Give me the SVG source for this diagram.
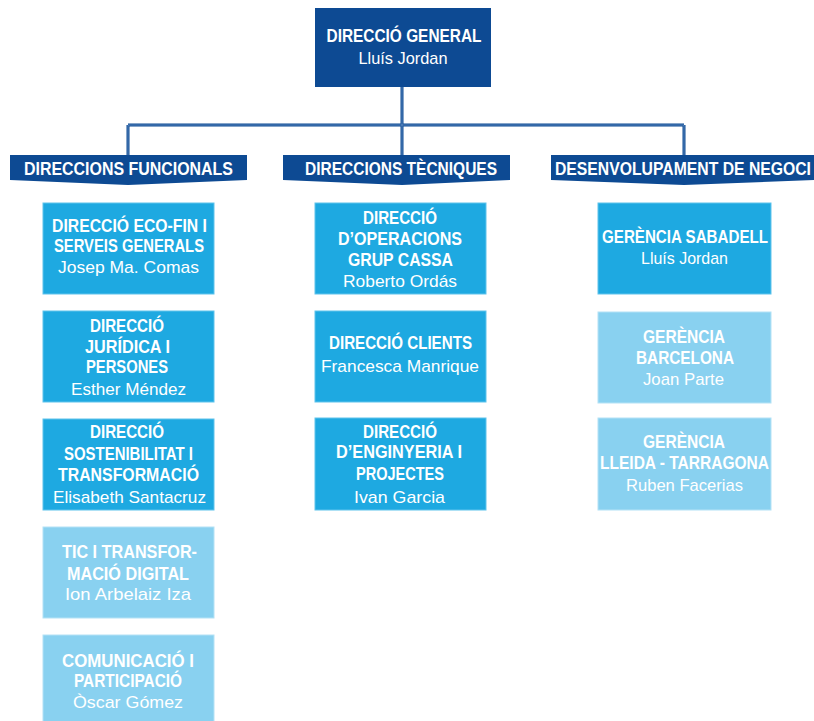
<svg xmlns="http://www.w3.org/2000/svg" width="814" height="721" viewBox="0 0 814 721">
<style>
.dark{fill:#0d4a93}
.bright{fill:#1ea9e1;stroke:#5fc3ec;stroke-width:1}
.light{fill:#89d1f0;stroke:#b4e2f6;stroke-width:1}
.t{font-family:"Liberation Sans",Arial,sans-serif;font-weight:bold;font-size:19px;fill:#ffffff;text-anchor:middle}
.n{font-family:"Liberation Sans",Arial,sans-serif;font-weight:normal;font-size:17px;fill:#ffffff;text-anchor:middle}
.h{font-family:"Liberation Sans",Arial,sans-serif;font-weight:bold;font-size:18px;fill:#ffffff;text-anchor:start}
.ln{fill:none;stroke:#0d4a93;stroke-width:3}
.lni{fill:none;stroke:#6f98c8;stroke-width:0.8}
</style>
<rect width="814" height="721" fill="#ffffff"/>
<g id="connectors">
<path class="ln" d="M402,87 V155 M128,125 H684 M128,125 V155 M684,125 V155"/>
<path class="lni" d="M402,87 V155 M128,125 H684 M128,125 V155 M684,125 V155"/>
</g>
<g id="dg">
<rect class="dark" x="315" y="8" width="176" height="79"/>
<text class="t" x="404" y="42" textLength="155" lengthAdjust="spacingAndGlyphs">DIRECCIÓ GENERAL</text>
<text class="n" x="403" y="64" textLength="89" lengthAdjust="spacingAndGlyphs">Lluís Jordan</text>
</g>
<g id="banner-funcionals">
<polygon class="dark" points="10,155 247,155 247,180 128,185 10,180"/>
<text class="h" x="24" y="175" textLength="209" lengthAdjust="spacingAndGlyphs">DIRECCIONS FUNCIONALS</text>
</g>
<g id="banner-tecniques">
<polygon class="dark" points="283,155 510,155 510,180 402,185 283,180"/>
<text class="h" x="305" y="175" textLength="192" lengthAdjust="spacingAndGlyphs">DIRECCIONS TÈCNIQUES</text>
</g>
<g id="banner-negoci">
<polygon class="dark" points="551,155 814,155 814,180 684,185 551,180"/>
<text class="h" x="555" y="175" textLength="256" lengthAdjust="spacingAndGlyphs">DESENVOLUPAMENT DE NEGOCI</text>
</g>
<g id="eco-fin">
<rect class="bright" x="43" y="203" width="171" height="91"/>
<text class="t" x="129.5" y="232" textLength="155" lengthAdjust="spacingAndGlyphs">DIRECCIÓ ECO-FIN I</text>
<text class="t" x="129" y="252" textLength="150" lengthAdjust="spacingAndGlyphs">SERVEIS GENERALS</text>
<text class="n" x="128.5" y="273" textLength="141" lengthAdjust="spacingAndGlyphs">Josep Ma. Comas</text>
</g>
<g id="juridica">
<rect class="bright" x="43" y="311" width="171" height="91"/>
<text class="t" x="127" y="332" textLength="74" lengthAdjust="spacingAndGlyphs">DIRECCIÓ</text>
<text class="t" x="127.5" y="353" textLength="85" lengthAdjust="spacingAndGlyphs">JURÍDICA I</text>
<text class="t" x="127" y="373" textLength="82" lengthAdjust="spacingAndGlyphs">PERSONES</text>
<text class="n" x="128.5" y="395" textLength="115" lengthAdjust="spacingAndGlyphs">Esther Méndez</text>
</g>
<g id="sostenibilitat">
<rect class="bright" x="43" y="419" width="171" height="91"/>
<text class="t" x="127" y="438" textLength="74" lengthAdjust="spacingAndGlyphs">DIRECCIÓ</text>
<text class="t" x="128.5" y="460" textLength="129" lengthAdjust="spacingAndGlyphs">SOSTENIBILITAT I</text>
<text class="t" x="128.5" y="481" textLength="141" lengthAdjust="spacingAndGlyphs">TRANSFORMACIÓ</text>
<text class="n" x="129.5" y="503" textLength="153" lengthAdjust="spacingAndGlyphs">Elisabeth Santacruz</text>
</g>
<g id="tic">
<rect class="light" x="43" y="527" width="171" height="91"/>
<text class="t" x="129.5" y="558" textLength="135" lengthAdjust="spacingAndGlyphs">TIC I TRANSFOR-</text>
<text class="t" x="128" y="580" textLength="122" lengthAdjust="spacingAndGlyphs">MACIÓ DIGITAL</text>
<text class="n" x="128" y="600" textLength="126" lengthAdjust="spacingAndGlyphs">Ion Arbelaiz Iza</text>
</g>
<g id="comunicacio">
<rect class="light" x="43" y="635" width="171" height="91"/>
<text class="t" x="128" y="667" textLength="132" lengthAdjust="spacingAndGlyphs">COMUNICACIÓ I</text>
<text class="t" x="128" y="687" textLength="108" lengthAdjust="spacingAndGlyphs">PARTICIPACIÓ</text>
<text class="n" x="128" y="708" textLength="110" lengthAdjust="spacingAndGlyphs">Òscar Gómez</text>
</g>
<g id="operacions">
<rect class="bright" x="315" y="203" width="171" height="91"/>
<text class="t" x="400" y="224" textLength="74" lengthAdjust="spacingAndGlyphs">DIRECCIÓ</text>
<text class="t" x="400" y="245" textLength="124" lengthAdjust="spacingAndGlyphs">D’OPERACIONS</text>
<text class="t" x="400.5" y="266" textLength="105" lengthAdjust="spacingAndGlyphs">GRUP CASSA</text>
<text class="n" x="400" y="287" textLength="114" lengthAdjust="spacingAndGlyphs">Roberto Ordás</text>
</g>
<g id="clients">
<rect class="bright" x="315" y="311" width="171" height="91"/>
<text class="t" x="400.5" y="349" textLength="143" lengthAdjust="spacingAndGlyphs">DIRECCIÓ CLIENTS</text>
<text class="n" x="400" y="372" textLength="158" lengthAdjust="spacingAndGlyphs">Francesca Manrique</text>
</g>
<g id="enginyeria">
<rect class="bright" x="315" y="418" width="171" height="92"/>
<text class="t" x="400" y="438" textLength="74" lengthAdjust="spacingAndGlyphs">DIRECCIÓ</text>
<text class="t" x="399" y="458" textLength="126" lengthAdjust="spacingAndGlyphs">D’ENGINYERIA I</text>
<text class="t" x="400" y="480" textLength="88" lengthAdjust="spacingAndGlyphs">PROJECTES</text>
<text class="n" x="399.5" y="503" textLength="91" lengthAdjust="spacingAndGlyphs">Ivan Garcia</text>
</g>
<g id="sabadell">
<rect class="bright" x="598" y="203" width="173" height="91"/>
<text class="t" x="685" y="243" textLength="166" lengthAdjust="spacingAndGlyphs">GERÈNCIA SABADELL</text>
<text class="n" x="684.5" y="264" textLength="87" lengthAdjust="spacingAndGlyphs">Lluís Jordan</text>
</g>
<g id="barcelona">
<rect class="light" x="598" y="312" width="173" height="91"/>
<text class="t" x="684" y="343" textLength="82" lengthAdjust="spacingAndGlyphs">GERÈNCIA</text>
<text class="t" x="685" y="364" textLength="98" lengthAdjust="spacingAndGlyphs">BARCELONA</text>
<text class="n" x="683.5" y="385" textLength="81" lengthAdjust="spacingAndGlyphs">Joan Parte</text>
</g>
<g id="lleida">
<rect class="light" x="598" y="418" width="173" height="92"/>
<text class="t" x="684" y="448" textLength="82" lengthAdjust="spacingAndGlyphs">GERÈNCIA</text>
<text class="t" x="684.5" y="469" textLength="169" lengthAdjust="spacingAndGlyphs">LLEIDA - TARRAGONA</text>
<text class="n" x="684.5" y="491" textLength="117" lengthAdjust="spacingAndGlyphs">Ruben Facerias</text>
</g>
</svg>
